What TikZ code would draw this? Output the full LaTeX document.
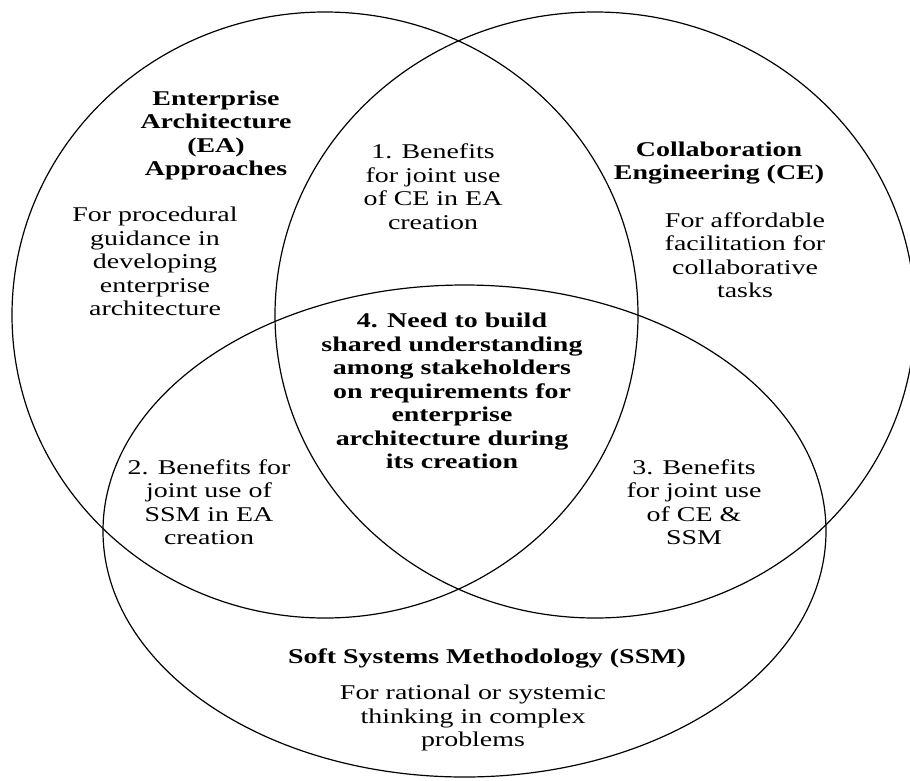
\documentclass[tikz,border=0pt]{standalone}
\usepackage{fontspec}
\setmainfont{Liberation Serif}[FakeStretch=1.33]
\newcommand\vennfont{\fontsize{21}{23.5}\selectfont\lineskiplimit -50pt\relax}
\tikzset{
  setring/.style={draw=black, line width=1.2pt},
  txt/.style={align=center, inner sep=0pt, font=\vennfont},
  btxt/.style={align=center, inner sep=0pt, font=\vennfont\bfseries}
}
\begin{document}
\begin{tikzpicture}[x=1pt,y=-1pt]
\useasboundingbox (0,0) rectangle (910,780);
\clip (0,0) rectangle (910,780);
% three sets
\draw[setring] (325,315) ellipse [x radius=313pt, y radius=303pt];
\draw[setring] (595,315) ellipse [x radius=320pt, y radius=303pt];
\draw[setring] (464.5,531) ellipse [x radius=361.5pt, y radius=246pt];
% EA
\node[btxt] (ea) at (216,135.5) {Enterprise\\Architecture\\(EA)\\Approaches};
\node[txt] (eadesc) at (155,261.5) {For procedural\\guidance in\\developing\\enterprise\\architecture};
% CE
\node[btxt] (ce) at (719,163) {Collaboration\\Engineering (CE)};
\node[txt] (cedesc) at (745,255) {For affordable\\facilitation for\\collaborative\\tasks};
% SSM
\node[btxt] (ssm) at (487,658) {Soft Systems Methodology (SSM)};
\node[txt] (ssmdesc) at (473,718) {For rational or systemic\\thinking in complex\\problems};
% overlaps
\node[txt] (b1) at (433,186.5) {1. Benefits\\for joint use\\of CE in EA\\creation};
\node[txt] (b2) at (209,502) {2. Benefits for\\joint use of\\SSM in EA\\creation};
\node[txt] (b3) at (694,502) {3. Benefits\\for joint use\\of CE \&\\SSM};
\node[btxt] (b4) at (452,391) {4. Need to build\\shared understanding\\among stakeholders\\on requirements for\\enterprise\\architecture during\\its creation};
\end{tikzpicture}
\end{document}
